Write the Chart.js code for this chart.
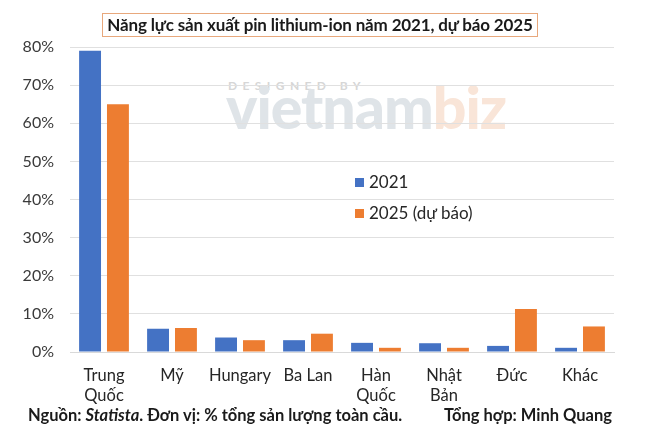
<!DOCTYPE html>
<html>
<head>
<meta charset="utf-8">
<script src="https://cdn.jsdelivr.net/npm/chart.js@4/dist/chart.umd.min.js"></script>
<style>
html,body{margin:0;padding:0;background:#fff;}
#wrap{position:relative;width:656px;height:441px;font-family:Lato,"Noto Sans",sans-serif;overflow:hidden;}
#c{position:absolute;left:0;top:0;}
#wm{position:absolute;left:0;top:0;width:656px;height:441px;pointer-events:none;}
#wm .d{position:absolute;left:228px;top:78px;font-size:12px;letter-spacing:5.4px;color:#d6d6d6;font-weight:700;}
#wm .v{position:absolute;left:226px;top:71px;font-size:59px;font-weight:900;letter-spacing:-1px;color:#dfe4e8;}
#wm .v span{color:#f9e5d8;}
#title{position:absolute;left:102px;top:13px;width:436px;height:24px;border:1px solid #e8a87c;box-sizing:border-box;
  font-size:17px;font-weight:700;color:#1a1a1a;text-align:center;line-height:22px;white-space:nowrap;letter-spacing:-0.15px;}
#legend{position:absolute;left:355px;top:170px;font-size:17px;color:#262626;}
#legend .it{position:absolute;left:0;white-space:nowrap;height:24px;line-height:24px;}
#legend .sw{display:inline-block;width:9px;height:9px;margin-right:5px;vertical-align:middle;position:relative;top:-1px;}
#footer{position:absolute;left:0;top:406px;width:656px;font-size:16.5px;line-height:18px;font-weight:700;color:#1a1a1a;}
#footer .l{position:absolute;left:28px;white-space:nowrap;}
#footer .r{position:absolute;right:44px;white-space:nowrap;}
</style>
</head>
<body>
<div id="wrap">
  <div id="wm"><div class="d">DESIGNED BY</div><div class="v">vietnam<span>biz</span></div></div>
  <canvas id="c" width="656" height="441"></canvas>
  <div id="title">Năng lực sản xuất pin lithium-ion năm 2021, dự báo 2025</div>
  <div id="legend"></div>
  <div id="footer"><span class="l">Nguồn: <i>Statista</i>. Đơn vị: % tổng sản lượng toàn cầu.</span><span class="r">Tổng hợp: Minh Quang</span></div>
</div>
<script>
const categories = [["Trung","Quốc"],"Mỹ","Hungary","Ba Lan",["Hàn","Quốc"],["Nhật","Bản"],"Đức","Khác"];
const seriesNames = ["2021","2025 (dự báo)"];
const values2021 = [79, 6.1, 3.8, 3.1, 2.4, 2.3, 1.6, 1.1];
const values2025 = [65, 6.3, 3.1, 4.8, 1.1, 1.1, 11.3, 6.7];
const seriesColors = ["#4472C4","#ED7D31"];
const yTicks = [0,10,20,30,40,50,60,70,80];

const ctx = document.getElementById('c').getContext('2d');
const chart = new Chart(ctx, {
  type: 'bar',
  data: {
    labels: categories,
    datasets: [
      {label: seriesNames[0], data: values2021, backgroundColor: seriesColors[0]},
      {label: seriesNames[1], data: values2025, backgroundColor: seriesColors[1]}
    ]
  },
  options: {
    responsive: false,
    animation: false,
    devicePixelRatio: 1,
    categoryPercentage: 0.82,
    barPercentage: 0.786,
    layout: {padding: {top: 47, right: 42, bottom: 0, left: 0}},
    plugins: {legend: {display: false}, title: {display: false}, tooltip: {enabled: false}},
    scales: {
      x: {
        grid: {display: false, drawTicks: false},
        border: {display: true, color: '#d9d9d9', width: 1},
        ticks: {padding: 14, color: '#262626', font: {family: 'Lato', size: 16.5, lineHeight: '20px'}, maxRotation: 0, autoSkip: false},
        afterFit: s => { s.height = 89; }
      },
      y: {
        min: yTicks[0], max: yTicks[yTicks.length-1],
        afterBuildTicks: s => { s.ticks = yTicks.map(v => ({value: v})); },
        grid: {color: '#e0e0e0', drawTicks: false, lineWidth: 1},
        border: {display: false},
        ticks: {padding: 16, color: '#3a3a3a', font: {family: 'Lato', size: 16}, callback: v => v + '%'},
        afterFit: s => { s.width = 70; }
      }
    }
  }
});

const lg = document.getElementById('legend');
chart.data.datasets.forEach((ds, i) => {
  const it = document.createElement('div');
  it.className = 'it';
  it.style.top = (i * 31) + 'px';
  const sw = document.createElement('span');
  sw.className = 'sw';
  sw.style.background = ds.backgroundColor;
  it.appendChild(sw);
  it.appendChild(document.createTextNode(ds.label));
  lg.appendChild(it);
});
</script>
</body>
</html>
